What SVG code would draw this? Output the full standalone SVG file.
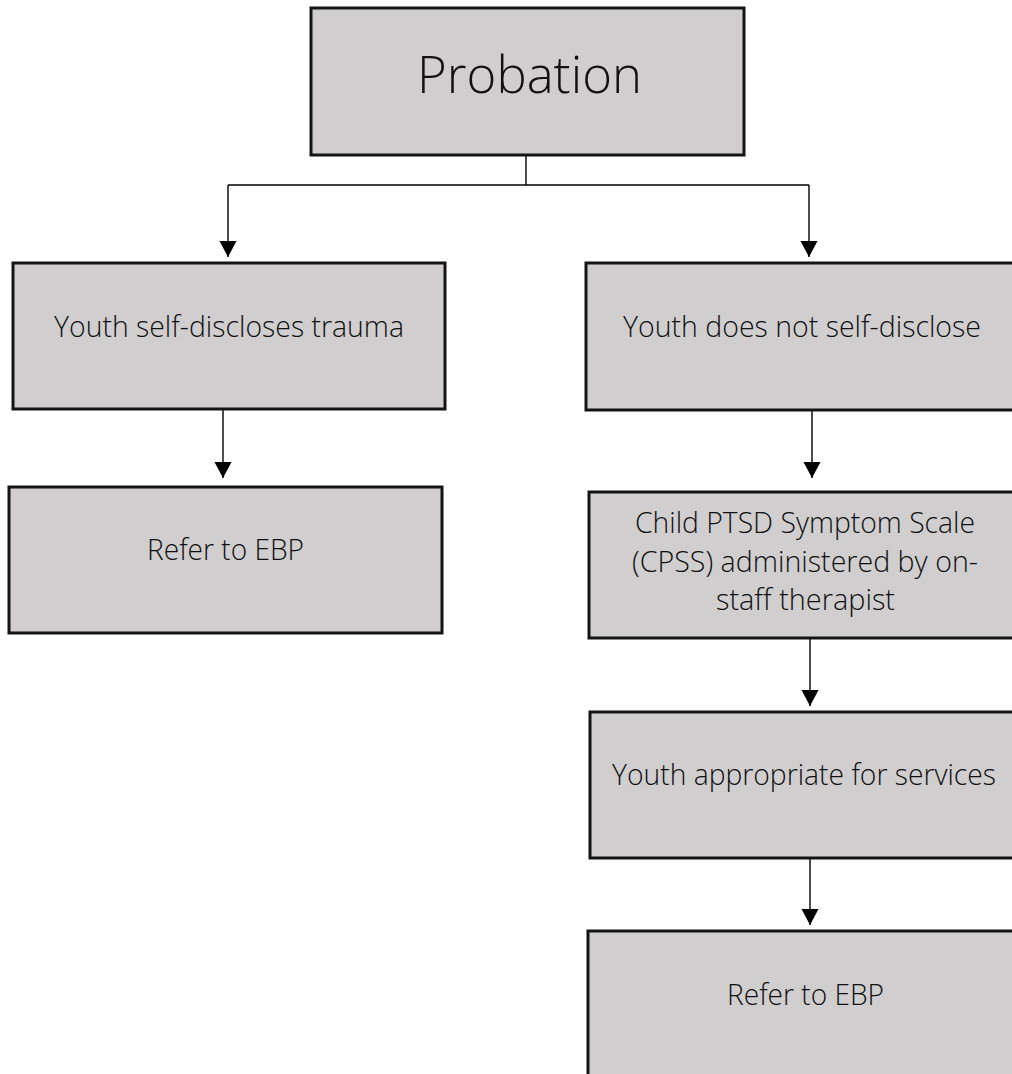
<svg xmlns="http://www.w3.org/2000/svg" width="1012" height="1074" viewBox="0 0 1012 1074">
<defs>
<style>
.box{fill:#d0cecf;stroke:#141414;stroke-width:3}
.lbl{font-family:"Open Sans","Noto Sans",sans-serif;font-weight:300;font-size:30px;fill:#111;text-anchor:middle}
.big{font-size:51px}
.con{stroke:#000;stroke-width:1.4;fill:none}
</style>
<marker id="ah" markerUnits="userSpaceOnUse" markerWidth="18" markerHeight="16" viewBox="0 0 16 15" refX="8" refY="15" orient="0">
<path d="M0,0 L16,0 L8,15 Z" fill="#000"/>
</marker>
</defs>
<rect width="1012" height="1074" fill="#fff"/>
<g id="connectors">
<path class="con" d="M526,155 V185"/>
<path class="con" d="M228,185 H809"/>
<path class="con" d="M228,185 V257" marker-end="url(#ah)"/>
<path class="con" d="M809,185 V257" marker-end="url(#ah)"/>
<path class="con" d="M223,409 V478" marker-end="url(#ah)"/>
<path class="con" d="M812,410 V478" marker-end="url(#ah)"/>
<path class="con" d="M810,638 V706" marker-end="url(#ah)"/>
<path class="con" d="M810,858 V925" marker-end="url(#ah)"/>
</g>
<g id="probation">
<rect class="box" x="311" y="8" width="433" height="147"/>
<text class="lbl big" x="529.5" y="93" textLength="225" lengthAdjust="spacingAndGlyphs">Probation</text>
</g>
<g id="self-discloses">
<rect class="box" x="13" y="263" width="432" height="146"/>
<text class="lbl" x="229" y="337" textLength="350" lengthAdjust="spacingAndGlyphs">Youth self-discloses trauma</text>
</g>
<g id="refer-left">
<rect class="box" x="9" y="487" width="433" height="146"/>
<text class="lbl" x="225.5" y="560" textLength="157" lengthAdjust="spacingAndGlyphs">Refer to EBP</text>
</g>
<g id="not-disclose">
<rect class="box" x="586" y="263" width="440" height="147"/>
<text class="lbl" x="802" y="337" textLength="358" lengthAdjust="spacingAndGlyphs">Youth does not self-disclose</text>
</g>
<g id="cpss">
<rect class="box" x="589" y="492" width="440" height="146"/>
<text class="lbl" x="805" y="533" textLength="340" lengthAdjust="spacingAndGlyphs">Child PTSD Symptom Scale</text>
<text class="lbl" x="805" y="572" textLength="346" lengthAdjust="spacingAndGlyphs">(CPSS) administered by on-</text>
<text class="lbl" x="805.5" y="610" textLength="179" lengthAdjust="spacingAndGlyphs">staff therapist</text>
</g>
<g id="appropriate">
<rect class="box" x="590" y="712" width="440" height="146"/>
<text class="lbl" x="804" y="785" style="font-size:28.5px" textLength="384" lengthAdjust="spacingAndGlyphs">Youth appropriate for services</text>
</g>
<g id="refer-right">
<rect class="box" x="588" y="931" width="440" height="170"/>
<text class="lbl" x="805.5" y="1005" textLength="157" lengthAdjust="spacingAndGlyphs">Refer to EBP</text>
</g>
</svg>
